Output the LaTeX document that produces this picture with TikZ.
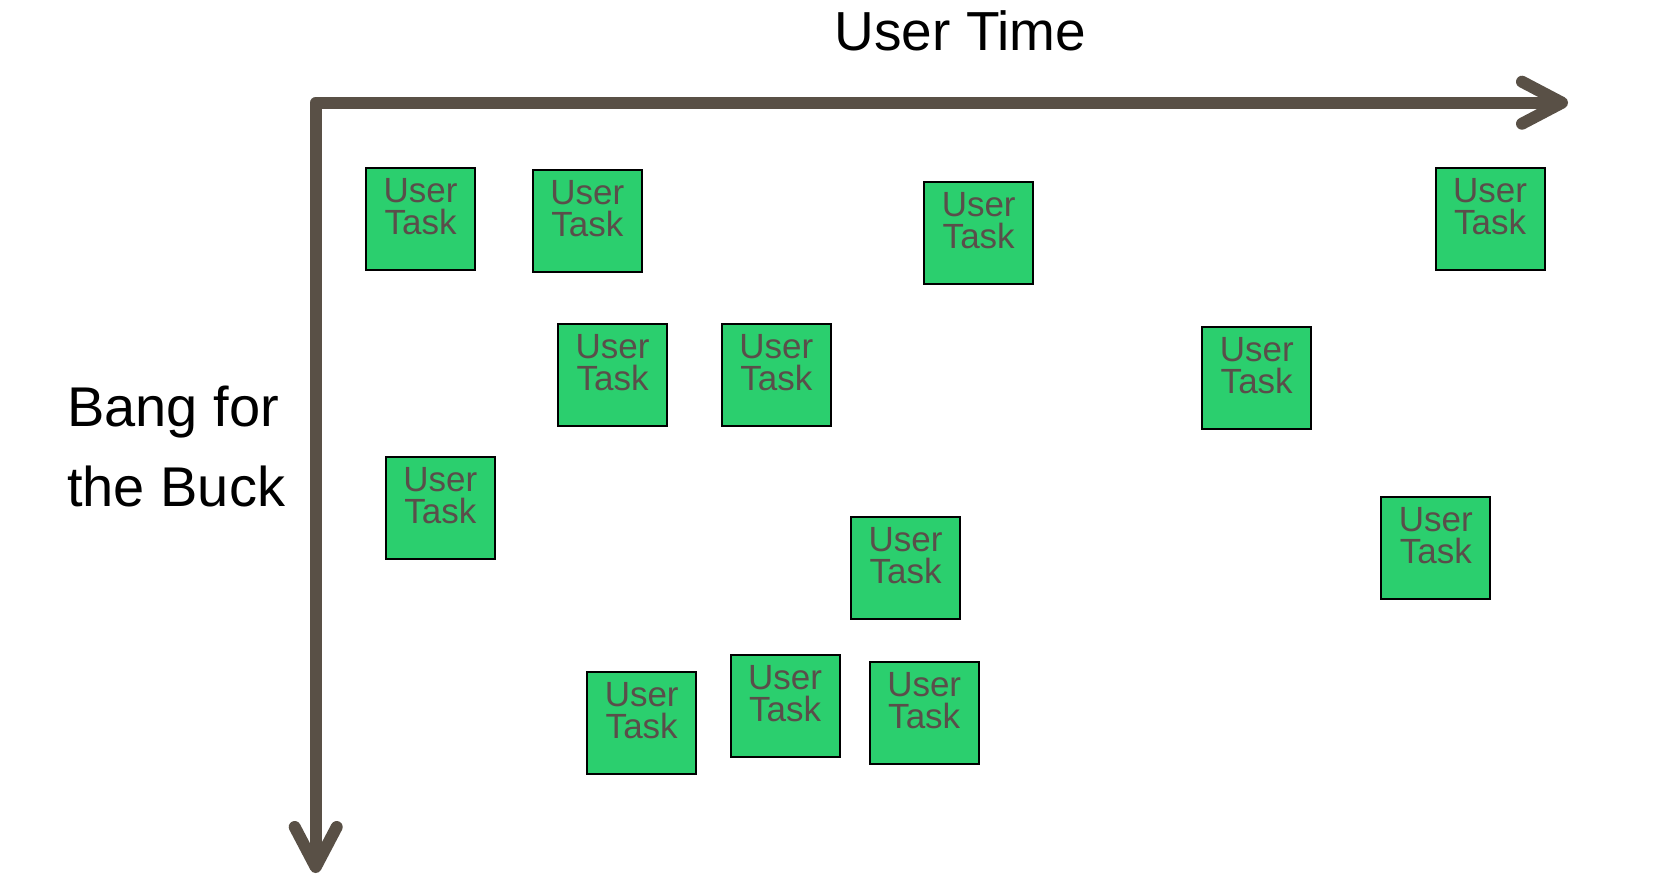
\documentclass[tikz,border=0pt]{standalone}
\usepackage{fontspec}
\setmainfont{Liberation Sans}
\usetikzlibrary{arrows.meta}
\definecolor{taskgreen}{RGB}{43,207,110}
\definecolor{tasktext}{RGB}{90,78,74}
\definecolor{axiscol}{RGB}{89,80,70}
\newcommand{\usertask}{\parbox[c][102pt][t]{109pt}{\centering\fontsize{35}{32}\selectfont\vspace*{10.5pt}User\\Task}}
\begin{document}
\begin{tikzpicture}[x=1pt,y=-1pt,
  box/.style={draw=black, line width=2pt, fill=taskgreen, text=tasktext, inner sep=0pt, outer sep=0pt},
  axis/.style={draw=axiscol, line width=12pt, line join=round},
  barb/.style={Straight Barb[length=40pt,width=42pt,round]},
  biglabel/.style={inner sep=0pt, text=black}]
\useasboundingbox (0,0) rectangle (1653,876);
\fill[white] (0,0) rectangle (1653,876);
\coordinate (origin) at (315.7,102.7);
\coordinate (xend) at (1568,102.7);
\coordinate (yend) at (315.7,873);
\draw[axis, {Straight Barb[length=40pt,width=42pt,round]}-{Straight Barb[length=40pt,width=42pt,round]}] (yend) -- (origin) -- (xend);
\node[biglabel, anchor=base, font=\fontsize{55}{55}\selectfont] (title) at (960.5,50.7) {User Time};
\node[biglabel, anchor=base west, font=\fontsize{56}{56}\selectfont] (lab1) at (67,426.7) {Bang for};
\node[biglabel, anchor=base west, font=\fontsize{56}{56}\selectfont] (lab2) at (67,506.7) {the Buck};
\node[box] (t1) at (420.5,219.2) {\usertask};
\node[box] (t2) at (587.3,221.2) {\usertask};
\node[box] (t3) at (978.7,232.5) {\usertask};
\node[box] (t4) at (1490,218.8) {\usertask};
\node[box] (t5) at (612.5,374.9) {\usertask};
\node[box] (t6) at (776.3,374.9) {\usertask};
\node[box] (t7) at (1256.7,377.7) {\usertask};
\node[box] (t8) at (440.3,508.2) {\usertask};
\node[box] (t9) at (905.5,568.3) {\usertask};
\node[box] (t10) at (1435.8,547.8) {\usertask};
\node[box] (t11) at (641.7,723.3) {\usertask};
\node[box] (t12) at (785,706.2) {\usertask};
\node[box] (t13) at (924.2,713.3) {\usertask};
\end{tikzpicture}
\end{document}
